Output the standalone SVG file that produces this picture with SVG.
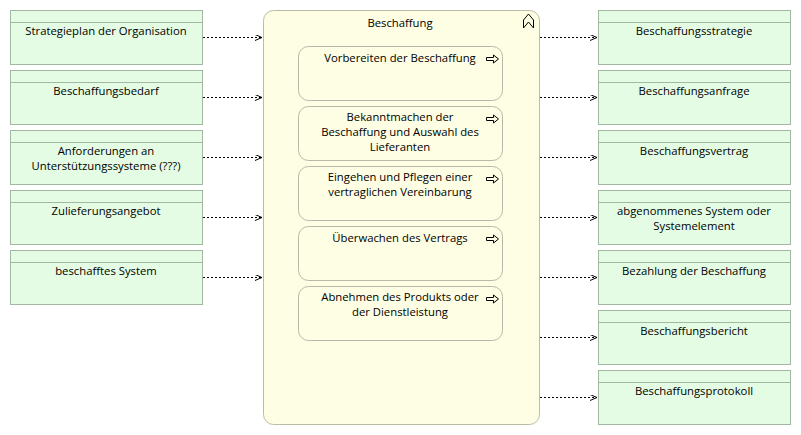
<svg xmlns="http://www.w3.org/2000/svg" width="801" height="435" viewBox="0 0 801 435">
<defs>
<style>
.obj{fill:#e4fce4;stroke:#a2b8a2;stroke-width:1}
.hdr{stroke:#a2b8a2;stroke-width:1}
.grp{fill:#fefee4;stroke:#bcbca4;stroke-width:1}
.proc{fill:#fefee4;stroke:#b8b8a8;stroke-width:1}
text{font-family:"Open Sans","Noto Sans","DejaVu Sans",sans-serif;font-size:11.3px;fill:#000;text-anchor:middle}
.conn{stroke:#000;stroke-width:1;stroke-dasharray:2,2;fill:none}
.icon{fill:none;stroke:#000;stroke-width:1}
</style>
<marker id="arr" markerWidth="10" markerHeight="10" refX="7" refY="3" orient="auto" markerUnits="userSpaceOnUse">
<path d="M0,0 L7,3 L0,6" fill="none" stroke="#000" stroke-width="1"/>
</marker>
</defs>
<rect width="801" height="435" fill="#fff"/>

<g id="group-beschaffung">
<rect class="grp" x="263.5" y="10.5" width="276" height="414" rx="10"/>
<text x="400" y="27">Beschaffung</text>
<path class="icon" d="M523.5,28 L523.5,20 L528.5,14 L533.5,20 L533.5,28 L528.5,22 Z"/>
</g>

<g id="p1">
<rect class="proc" x="298.5" y="46.5" width="204" height="54" rx="10"/>
<text x="400" y="62">Vorbereiten der Beschaffung</text>
<path class="icon" d="M486.5,57.5 h7 v-2.5 l5,4 l-5,4 v-2.5 h-7 Z"/>
</g>
<g id="p2">
<rect class="proc" x="298.5" y="106.5" width="204" height="54" rx="10"/>
<text x="400" y="121">Bekanntmachen der</text>
<text x="400" y="136">Beschaffung und Auswahl des</text>
<text x="400" y="151">Lieferanten</text>
<path class="icon" d="M486.5,117.5 h7 v-2.5 l5,4 l-5,4 v-2.5 h-7 Z"/>
</g>
<g id="p3">
<rect class="proc" x="298.5" y="166.5" width="204" height="54" rx="10"/>
<text x="400" y="181">Eingehen und Pflegen einer</text>
<text x="400" y="196">vertraglichen Vereinbarung</text>
<path class="icon" d="M486.5,177.5 h7 v-2.5 l5,4 l-5,4 v-2.5 h-7 Z"/>
</g>
<g id="p4">
<rect class="proc" x="298.5" y="226.5" width="204" height="54" rx="10"/>
<text x="400" y="242">Überwachen des Vertrags</text>
<path class="icon" d="M486.5,237.5 h7 v-2.5 l5,4 l-5,4 v-2.5 h-7 Z"/>
</g>
<g id="p5">
<rect class="proc" x="298.5" y="286.5" width="204" height="54" rx="10"/>
<text x="400" y="301">Abnehmen des Produkts oder</text>
<text x="400" y="316">der Dienstleistung</text>
<path class="icon" d="M486.5,297.5 h7 v-2.5 l5,4 l-5,4 v-2.5 h-7 Z"/>
</g>

<g id="in1"><rect class="obj" x="10.5" y="10.5" width="192" height="54"/><line class="hdr" x1="10.5" y1="22.5" x2="202.5" y2="22.5"/><text x="106" y="35">Strategieplan der Organisation</text></g>
<g id="in2"><rect class="obj" x="10.5" y="70.5" width="192" height="54"/><line class="hdr" x1="10.5" y1="82.5" x2="202.5" y2="82.5"/><text x="106" y="95">Beschaffungsbedarf</text></g>
<g id="in3"><rect class="obj" x="10.5" y="130.5" width="192" height="54"/><line class="hdr" x1="10.5" y1="142.5" x2="202.5" y2="142.5"/><text x="106" y="155">Anforderungen an</text><text x="106" y="170">Unterstützungssysteme (???)</text></g>
<g id="in4"><rect class="obj" x="10.5" y="190.5" width="192" height="54"/><line class="hdr" x1="10.5" y1="202.5" x2="202.5" y2="202.5"/><text x="106" y="215">Zulieferungsangebot</text></g>
<g id="in5"><rect class="obj" x="10.5" y="250.5" width="192" height="54"/><line class="hdr" x1="10.5" y1="262.5" x2="202.5" y2="262.5"/><text x="106" y="275">beschafftes System</text></g>

<g id="out1"><rect class="obj" x="598.5" y="10.5" width="192" height="54"/><line class="hdr" x1="598.5" y1="22.5" x2="790.5" y2="22.5"/><text x="694" y="35">Beschaffungsstrategie</text></g>
<g id="out2"><rect class="obj" x="598.5" y="70.5" width="192" height="54"/><line class="hdr" x1="598.5" y1="82.5" x2="790.5" y2="82.5"/><text x="694" y="95">Beschaffungsanfrage</text></g>
<g id="out3"><rect class="obj" x="598.5" y="130.5" width="192" height="54"/><line class="hdr" x1="598.5" y1="142.5" x2="790.5" y2="142.5"/><text x="694" y="155">Beschaffungsvertrag</text></g>
<g id="out4"><rect class="obj" x="598.5" y="190.5" width="192" height="54"/><line class="hdr" x1="598.5" y1="202.5" x2="790.5" y2="202.5"/><text x="694" y="215">abgenommenes System oder</text><text x="694" y="230">Systemelement</text></g>
<g id="out5"><rect class="obj" x="598.5" y="250.5" width="192" height="54"/><line class="hdr" x1="598.5" y1="262.5" x2="790.5" y2="262.5"/><text x="694" y="275">Bezahlung der Beschaffung</text></g>
<g id="out6"><rect class="obj" x="598.5" y="310.5" width="192" height="54"/><line class="hdr" x1="598.5" y1="322.5" x2="790.5" y2="322.5"/><text x="694" y="335">Beschaffungsbericht</text></g>
<g id="out7"><rect class="obj" x="598.5" y="370.5" width="192" height="54"/><line class="hdr" x1="598.5" y1="382.5" x2="790.5" y2="382.5"/><text x="694" y="395">Beschaffungsprotokoll</text></g>

<g id="connectors">
<path class="conn" marker-end="url(#arr)" d="M203,37.5 H262"/>
<path class="conn" marker-end="url(#arr)" d="M203,97.5 H262"/>
<path class="conn" marker-end="url(#arr)" d="M203,157.5 H262"/>
<path class="conn" marker-end="url(#arr)" d="M203,217.5 H262"/>
<path class="conn" marker-end="url(#arr)" d="M203,277.5 H262"/>
<path class="conn" marker-end="url(#arr)" d="M540,37.5 H597"/>
<path class="conn" marker-end="url(#arr)" d="M540,97.5 H597"/>
<path class="conn" marker-end="url(#arr)" d="M540,157.5 H597"/>
<path class="conn" marker-end="url(#arr)" d="M540,217.5 H597"/>
<path class="conn" marker-end="url(#arr)" d="M540,277.5 H597"/>
<path class="conn" marker-end="url(#arr)" d="M540,337.5 H597"/>
<path class="conn" marker-end="url(#arr)" d="M540,397.5 H597"/>
</g>
</svg>
